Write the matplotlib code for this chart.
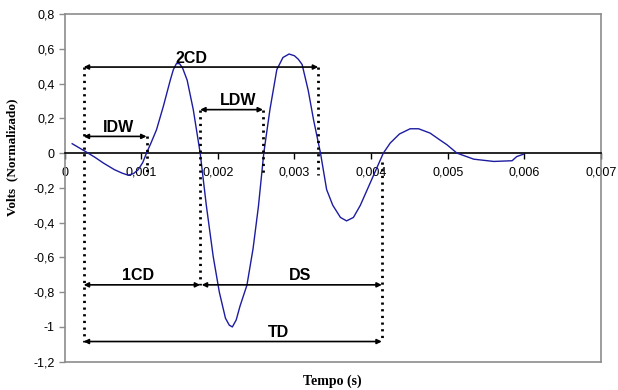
import matplotlib
matplotlib.use("Agg")
import matplotlib.pyplot as plt
from matplotlib.ticker import FuncFormatter, MultipleLocator

# sinal normalizado (tempo em s, volts normalizados)
tempo = [0.00010, 0.00027, 0.00040, 0.00051, 0.00065, 0.00075, 0.00083, 0.00090,
         0.00096, 0.00102, 0.00107, 0.00113, 0.00120, 0.00129, 0.00138, 0.00142,
         0.00146, 0.00150, 0.00154, 0.00160, 0.00168, 0.00177, 0.00185, 0.00194,
         0.00202, 0.00210, 0.00215, 0.00219, 0.00224, 0.00229, 0.00238, 0.00246,
         0.00253, 0.00260, 0.00268, 0.00277, 0.00285, 0.00293, 0.00300, 0.00305,
         0.00310, 0.00318, 0.00325, 0.00334, 0.00342, 0.00350, 0.00360, 0.00368,
         0.00377, 0.00386, 0.00395, 0.00405, 0.00416, 0.00425, 0.00437, 0.00451,
         0.00462, 0.00477, 0.00490, 0.00499, 0.00512, 0.00534, 0.00560, 0.00584,
         0.00590, 0.00599]
volts = [0.054, 0.010, -0.025, -0.058, -0.095, -0.115, -0.127, -0.118,
         -0.096, -0.055, 0.0, 0.06, 0.134, 0.27, 0.42, 0.48,
         0.515, 0.515, 0.49, 0.42, 0.25, 0.0, -0.30, -0.595,
         -0.80, -0.95, -0.99, -1.0, -0.96, -0.88, -0.76, -0.55,
         -0.307, 0.0, 0.25, 0.48, 0.55, 0.57, 0.56, 0.54,
         0.51, 0.36, 0.19, 0.0, -0.21, -0.30, -0.37, -0.39,
         -0.37, -0.30, -0.21, -0.11, 0.0, 0.058, 0.11, 0.14,
         0.14, 0.115, 0.075, 0.048, 0.0, -0.035, -0.048, -0.044,
         -0.02, -0.006]

# instantes marcados e niveis das setas
t_ini, t_idw, t_1cd, t_ldw, t_2cd, t_fim = 0.00025, 0.00107, 0.00177, 0.00259, 0.00331, 0.00414
nivel_2cd, nivel_ldw, nivel_idw, nivel_1cd, nivel_td = 0.495, 0.25, 0.096, -0.758, -1.084

def virgula(v, pos):
    s = "{:g}".format(round(v, 6))
    return s.replace(".", ",")

fig = plt.figure(figsize=(6.18, 3.9), dpi=100)
ax = fig.add_axes([0.1044, 0.0726, 0.8681, 0.8914])

ax.plot(tempo, volts, color="#1c1ca0", lw=1.0, zorder=3)

ax.set_xlim(0, 0.007)
ax.set_ylim(-1.2, 0.8)
ax.xaxis.set_major_locator(MultipleLocator(0.001))
ax.yaxis.set_major_locator(MultipleLocator(0.2))
ax.xaxis.set_major_formatter(FuncFormatter(virgula))
ax.yaxis.set_major_formatter(FuncFormatter(virgula))

for s in ["top", "right", "left"]:
    ax.spines[s].set_color("#8c8c8c")
    ax.spines[s].set_linewidth(1.2)
ax.spines["bottom"].set_position(("data", 0))
ax.spines["bottom"].set_color("black")
ax.spines["bottom"].set_linewidth(1.2)
ax.plot([0, 1], [0, 0], transform=ax.transAxes, color="#8c8c8c", lw=1.2, clip_on=False)

ax.tick_params(axis="x", direction="out", length=4, width=1, pad=6, labelsize=9, colors="black")
ax.tick_params(axis="y", direction="out", length=4, width=1, pad=3, labelsize=9,
               color="#8c8c8c", labelcolor="black")
for lab in ax.get_xticklabels() + ax.get_yticklabels():
    lab.set_fontfamily("Liberation Sans")

# linhas pontilhadas verticais
pont = dict(color="black", lw=2.0, linestyle=(0, (0.8, 1.6)), zorder=4)
ax.plot([t_ini, t_ini], [nivel_2cd, nivel_td], **pont)
ax.plot([t_idw, t_idw], [nivel_idw, -0.125], **pont)
ax.plot([t_1cd, t_1cd], [nivel_ldw, nivel_1cd], **pont)
ax.plot([t_ldw, t_ldw], [nivel_ldw, -0.115], **pont)
ax.plot([t_2cd, t_2cd], [nivel_2cd, -0.125], **pont)
ax.plot([t_fim, t_fim], [-0.05, nivel_td], **pont)

def seta(x0, x1, y):
    ax.annotate("", xy=(x1, y), xytext=(x0, y),
                arrowprops=dict(arrowstyle="<|-|>", mutation_scale=7, lw=1.2,
                                color="black", shrinkA=0, shrinkB=0), zorder=5)

seta(t_ini, t_2cd, nivel_2cd)
seta(t_1cd, t_ldw, nivel_ldw)
seta(t_ini, t_idw, nivel_idw)
seta(t_ini, t_1cd, nivel_1cd)
seta(t_1cd + 0.00002, t_fim, nivel_1cd)
seta(t_ini, t_fim, nivel_td)

rot = dict(fontsize=11.5, fontweight="bold", family="Liberation Sans", ha="center", va="bottom", zorder=6)
ax.text(0.00166, nivel_2cd + 0.005, "2CD", **rot)
ax.text(0.00227, nivel_ldw + 0.01, "LDW", **rot)
ax.text(0.00070, nivel_idw + 0.01, "IDW", **rot)
ax.text(0.00096, nivel_1cd + 0.01, "1CD", **rot)
ax.text(0.00307, nivel_1cd + 0.01, "DS", **rot)
ax.text(0.00279, nivel_td + 0.01, "TD", **rot)

fig.text(0.537, 0.023, "Tempo (s)", fontsize=10, fontweight="bold", family="Liberation Serif",
         ha="center", va="center")
fig.text(0.020, 0.596, "Volts  (Normalizado)", fontsize=9.5, fontweight="bold", family="Liberation Serif",
         ha="center", va="center", rotation=90)

fig.savefig("out.png", dpi=100)
